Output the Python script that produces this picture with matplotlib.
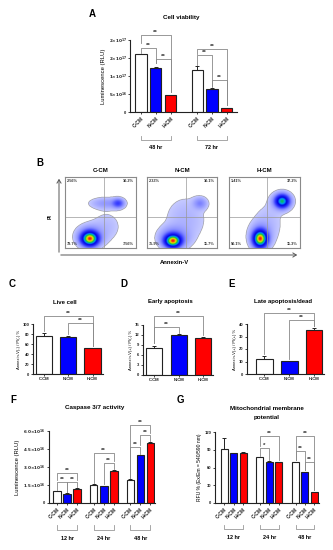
import numpy as np
import matplotlib
matplotlib.use("Agg")
import matplotlib.pyplot as plt
from matplotlib.colors import LinearSegmentedColormap

plt.rcParams['font.family'] = ['Liberation Sans', 'DejaVu Sans']
plt.rcParams['font.weight'] = 'bold'
plt.rcParams['mathtext.default'] = 'bf'

W, H = 333, 550
fig = plt.figure(figsize=(W / 100, H / 100), dpi=100)

COLS = ['white', '#0000ff', '#ff0000']
cond = ['C-CM', 'N-CM', 'H-CM']

# ---------------- data ----------------
A_groups = ['48 hr', '72 hr']
A_vals = [1.61e17, 1.23e17, 0.47e17, 1.18e17, 0.64e17, 0.11e17]
A_errs = [0.0, 0.01e17, 0.005e17, 0.09e17, 0.02e17, 0.01e17]
A_ticks = [0, 5e16, 1e17, 1.5e17, 2e17]
A_ticklabels = ['0', r'$5{\times}10^{16}$', r'$1{\times}10^{17}$', r'$2{\times}10^{17}$', r'$2{\times}10^{17}$']

B_titles = ['C-CM', 'N-CM', 'H-CM']
B_quadrants = [['2.56%', '10.2%', '79.7%', '7.56%'],
               ['2.33%', '10.1%', '75.9%', '11.7%'],
               ['1.41%', '37.2%', '50.1%', '11.3%']]
# populations: (x centre, y centre, x spread, y spread, weight) in box fractions
B_pops = [[(0.35, 0.13, 0.065, 0.055, 1.0), (0.35, 0.16, 0.11, 0.09, 0.12),
           (0.75, 0.63, 0.05, 0.04, 0.15), (0.58, 0.63, 0.14, 0.05, 0.05),
           (0.58, 0.30, 0.15, 0.15, 0.02)],
          [(0.37, 0.10, 0.065, 0.05, 1.0), (0.38, 0.14, 0.12, 0.09, 0.12),
           (0.76, 0.63, 0.06, 0.05, 0.07), (0.55, 0.40, 0.20, 0.22, 0.025)],
          [(0.44, 0.13, 0.055, 0.065, 1.0), (0.44, 0.16, 0.09, 0.11, 0.1),
           (0.75, 0.66, 0.055, 0.05, 0.6), (0.75, 0.66, 0.09, 0.08, 0.08),
           (0.55, 0.35, 0.15, 0.20, 0.02)]]
B_qx = [0.55, 0.55, 0.535]
B_qy = 0.44

C_vals = [76.7, 75.0, 51.3]
C_errs = [5.0, 0.8, 1.5]
D_vals = [8.0, 12.0, 11.2]
D_errs = [0.8, 0.2, 0.2]
E_vals = [12.0, 10.1, 35.0]
E_errs = [2.7, 0.6, 1.5]

F_groups = ['12 hr', '24 hr', '48 hr']
F_vals = [0.96e16, 0.77e16, 1.18e16, 1.51e16, 1.38e16, 2.70e16, 1.93e16, 3.96e16, 5.01e16]
F_errs = [0.04e16, 0.04e16, 0.05e16, 0.06e16, 0.05e16, 0.06e16, 0.05e16, 0.06e16, 0.08e16]
F_ticks = [0, 1.5e16, 3e16, 4.5e16, 6e16]
F_ticklabels = ['0', r'$1.5{\times}10^{16}$', r'$3.0{\times}10^{16}$', r'$4.5{\times}10^{16}$', r'$6.0{\times}10^{16}$']

G_vals = [91.8, 84.5, 85.0, 77.0, 70.0, 69.3, 68.7, 52.4, 18.6]
G_errs = [18.0, 0.8, 0.8, 0.8, 0.8, 0.8, 1.0, 0.6, 0.8]


def px_axes(x0, y0, x1, y1):
    return fig.add_axes([x0 / W, 1 - y1 / H, (x1 - x0) / W, (y1 - y0) / H])


def ftext(x, y, s, **kw):
    fig.text(x / W, 1 - y / H, s, **kw)


def style(ax):
    for s in ['top', 'right']:
        ax.spines[s].set_visible(False)
    for s in ['left', 'bottom']:
        ax.spines[s].set_linewidth(0.8)
        ax.spines[s].set_color('#222222')
    ax.tick_params(axis='both', length=1.5, width=0.6, pad=1, labelsize=3.2, colors='#222222')


def bars(ax, pos, vals, errs, width):
    colors = [COLS[i % 3] for i in range(len(vals))]
    ax.bar(pos, vals, width=width, color=colors, edgecolor='#222222', linewidth=0.8, zorder=2)
    for p, v, e in zip(pos, vals, errs):
        if e > 0:
            ax.errorbar([p], [v], yerr=[[0], [e]], fmt='none', ecolor='#222222',
                        elinewidth=0.7, capsize=1.2, capthick=0.7, zorder=3)


def sig(ax, x1, x2, y, yl, yr, txt='**', fs=4.5):
    ax.plot([x1, x1, x2, x2], [yl, y, y, yr], color='#888888', lw=0.6, clip_on=False, zorder=4)
    ax.text((x1 + x2) / 2, y, txt, ha='center', va='bottom', fontsize=fs, color='#333333',
            clip_on=False, linespacing=0.8)


def group_brackets(ax, centers, labels, yline=-0.38, ytick=-0.30, ylab=-0.47, half=0.9):
    tr = ax.get_xaxis_transform()
    for c, lab in zip(centers, labels):
        ax.plot([c - half, c - half, c + half, c + half], [ytick, yline, yline, ytick],
                color='#999999', lw=0.6, transform=tr, clip_on=False)
        ax.text(c, ylab, lab, transform=tr, ha='center', va='center', fontsize=4)


# ---------------- panel A ----------------
axA = px_axes(130, 40, 237, 112)
posA = [0, 1, 2, 3.8, 4.8, 5.8]
bars(axA, posA, A_vals, A_errs, 0.76)
style(axA)
axA.set_xlim(-0.75, 6.5)
axA.set_ylim(0, 2e17)
axA.set_yticks(A_ticks)
axA.set_yticklabels(A_ticklabels, fontsize=3.0)
axA.set_xticks(posA)
axA.set_xticklabels(cond * 2, rotation=45, ha='right', rotation_mode='anchor', fontsize=3.6)
axA.set_ylabel('Luminescence (RLU)', fontsize=4.2, labelpad=2)
sig(axA, 0, 1, 1.78e17, 1.64e17, 1.36e17)
sig(axA, 1, 2, 1.47e17, 1.36e17, 0.55e17)
sig(axA, 0, 2, 2.14e17, 1.92e17, 0.55e17)
sig(axA, 3.8, 4.8, 1.58e17, 1.31e17, 0.69e17)
sig(axA, 3.8, 5.8, 1.75e17, 1.62e17, 0.2e17)
sig(axA, 4.8, 5.8, 0.89e17, 0.72e17, 0.2e17)
group_brackets(axA, [1, 4.8], A_groups, yline=-0.39, ytick=-0.33, ylab=-0.49, half=1.0)
ftext(92, 14, 'A', fontsize=7, ha='center', va='center')
ftext(181, 18, 'Cell viability', fontsize=4.5, ha='center', va='center')

# ---------------- panel B ----------------
cmap = LinearSegmentedColormap.from_list('flow', [
    (0.0, '#c6caff'), (0.2, '#8a90ff'), (0.4, '#3036ff'), (0.6, '#0000dd'),
    (0.72, '#00a0ff'), (0.82, '#10c030'), (0.92, '#f0f000'), (1.0, '#ff1010')])
gx, gy = np.meshgrid(np.linspace(0, 1, 240), np.linspace(0, 1, 240))
boxes_x = [(65, 136), (147, 217), (229, 300)]
for k, (x0, x1) in enumerate(boxes_x):
    ax = px_axes(x0, 177, x1, 248)
    dens = np.zeros_like(gx)
    for (cx, cy, sx, sy, w) in B_pops[k]:
        dens += w * np.exp(-0.5 * (((gx - cx) / sx) ** 2 + ((gy - cy) / sy) ** 2))
    dens = dens / dens.max()
    dens = dens ** 0.38
    img = np.ma.masked_less(dens, 0.17)
    ax.imshow(img, origin='lower', extent=[0, 1, 0, 1], cmap=cmap, vmin=0.17, vmax=1.0,
              aspect='auto', interpolation='bilinear')
    ax.axvline(B_qx[k], color='#999999', lw=0.5)
    ax.axhline(B_qy, color='#999999', lw=0.5)
    ax.set_xlim(0, 1)
    ax.set_ylim(0, 1)
    ax.set_xticks([])
    ax.set_yticks([])
    for s in ax.spines.values():
        s.set_color('#8a8a8a')
        s.set_linewidth(0.8)
    q = B_quadrants[k]
    kw = dict(transform=ax.transAxes, fontsize=2.8, color='#333333')
    ax.text(0.03, 0.97, q[0], ha='left', va='top', **kw)
    ax.text(0.97, 0.97, q[1], ha='right', va='top', **kw)
    ax.text(0.03, 0.03, q[2], ha='left', va='bottom', **kw)
    ax.text(0.97, 0.03, q[3], ha='right', va='bottom', **kw)
    ftext((x0 + x1) / 2, 170, B_titles[k], fontsize=4.3, ha='center', va='center')

fig.patches.append(matplotlib.patches.FancyArrowPatch(
    (59 / W, 1 - 255 / H), (59 / W, 1 - 176 / H), transform=fig.transFigure,
    arrowstyle='->,head_length=2.5,head_width=1.5', color='#555555', lw=0.7))
fig.patches.append(matplotlib.patches.FancyArrowPatch(
    (58 / W, 1 - 255 / H), (300 / W, 1 - 255 / H), transform=fig.transFigure,
    arrowstyle='->,head_length=2.5,head_width=1.5', color='#555555', lw=0.7))
ftext(50, 217, 'PI', fontsize=3.6, rotation=90, ha='center', va='center')
ftext(174, 262, 'Annexin-V', fontsize=4.2, ha='center', va='center')
ftext(40, 163, 'B', fontsize=7, ha='center', va='center')

# ---------------- panels C, D, E ----------------
def small_panel(box, vals, errs, ylim, ticks, ylabel, xlim):
    ax = px_axes(*box)
    bars(ax, [0, 1, 2], vals, errs, 0.67)
    style(ax)
    ax.set_xlim(*xlim)
    ax.set_ylim(*ylim)
    ax.set_yticks(ticks)
    ax.set_yticklabels([str(t) for t in ticks], fontsize=3.0)
    ax.set_xticks([0, 1, 2])
    ax.set_xticklabels(cond, fontsize=3.0)
    ax.set_ylabel(ylabel, fontsize=3.0, labelpad=1.5)
    return ax

axC = small_panel((33, 324, 103, 374), C_vals, C_errs, (0, 100), [0, 20, 40, 60, 80, 100],
                  'Annexin-V(-) / PI(-) %', (-0.46, 2.43))
sig(axC, 0, 2, 116, 86, 56)
sig(axC, 1, 2, 102, 80, 56)
ftext(12, 284, 'C', fontsize=7, ha='center', va='center')
ftext(65, 302, 'Live cell', fontsize=4.3, ha='center', va='center')

axD = small_panel((143, 325, 213, 375), D_vals, D_errs, (0, 15), [0, 3, 6, 9, 12, 15],
                  'Annexin-V(+) / PI(-) %', (-0.46, 2.4))
sig(axD, 0, 2, 17.7, 9.5, 12.0)
sig(axD, 0, 1, 14.5, 9.5, 12.7)
ftext(124, 284, 'D', fontsize=7, ha='center', va='center')
ftext(170, 302, 'Early apoptosis', fontsize=4.3, ha='center', va='center')

axE = small_panel((247, 324, 324, 374), E_vals, E_errs, (0, 40), [0, 10, 20, 30, 40],
                  'Annexin-V(+) / PI(+) %', (-0.7, 2.4))
sig(axE, 0, 2, 49.0, 16, 38)
sig(axE, 1, 2, 43.2, 12, 38)
ftext(232, 284, 'E', fontsize=7, ha='center', va='center')
ftext(283, 302, 'Late apoptosis/dead', fontsize=4.3, ha='center', va='center')

# ---------------- panel F ----------------
axF = px_axes(49, 431, 155, 503)
posF = [0, 1, 2, 3.65, 4.65, 5.65, 7.3, 8.3, 9.3]
bars(axF, posF, F_vals, F_errs, 0.75)
style(axF)
axF.set_xlim(-0.8, 9.75)
axF.set_ylim(0, 6e16)
axF.set_yticks(F_ticks)
axF.set_yticklabels(F_ticklabels, fontsize=3.0)
axF.set_xticks(posF)
axF.set_xticklabels(cond * 3, rotation=45, ha='right', rotation_mode='anchor', fontsize=3.6)
axF.set_ylabel('Luminescence (RLU)', fontsize=4.2, labelpad=2)
sig(axF, 0, 1, 1.75e16, 1.1e16, 0.9e16)
sig(axF, 1, 2, 1.75e16, 0.9e16, 1.3e16)
sig(axF, 0, 2, 2.53e16, 1.95e16, 1.95e16)
sig(axF, 3.65, 5.65, 4.18e16, 1.7e16, 3.5e16)
sig(axF, 4.65, 5.65, 3.30e16, 1.55e16, 2.85e16)
sig(axF, 7.3, 9.3, 6.47e16, 2.1e16, 5.85e16)
sig(axF, 7.3, 8.3, 4.68e16, 2.1e16, 4.1e16)
sig(axF, 8.3, 9.3, 5.64e16, 4.8e16, 5.2e16)
group_brackets(axF, [1, 4.65, 8.3], F_groups, yline=-0.37, ytick=-0.31, ylab=-0.49, half=1.0)
ftext(13, 400, 'F', fontsize=7, ha='center', va='center')
ftext(95, 408, 'Caspase 3/7 activity', fontsize=4.5, ha='center', va='center')

# ---------------- panel G ----------------
axG = px_axes(215, 432, 319, 503)
posG = [0, 1, 2, 3.8, 4.8, 5.8, 7.6, 8.6, 9.6]
bars(axG, posG, G_vals, G_errs, 0.75)
style(axG)
axG.set_xlim(-1.0, 10.1)
axG.set_ylim(0, 120)
axG.set_yticks([0, 30, 60, 90, 120])
axG.set_yticklabels(['0', '30', '60', '90', '120'], fontsize=3.0)
axG.set_xticks(posG)
axG.set_xticklabels(cond * 3, rotation=45, ha='right', rotation_mode='anchor', fontsize=3.6)
axG.set_ylabel('RFU % (Ex/Em = 540/590 nm)', fontsize=3.6, labelpad=2)
sig(axG, 3.8, 4.8, 93, 80, 73, txt='*')
sig(axG, 3.8, 5.8, 113.8, 97, 73)
sig(axG, 7.6, 9.6, 113.8, 72, 22)
sig(axG, 7.6, 8.6, 87.3, 72, 56)
sig(axG, 8.6, 9.6, 69.3, 56, 22)
group_brackets(axG, [1, 4.8, 8.6], F_groups, yline=-0.37, ytick=-0.31, ylab=-0.49, half=1.0)
ftext(180, 400, 'G', fontsize=7, ha='center', va='center')
ftext(267, 408, 'Mitochondrial membrane', fontsize=4.5, ha='center', va='center')
ftext(267, 418, 'potential', fontsize=4.5, ha='center', va='center')

fig.savefig('out.png', dpi=100)
